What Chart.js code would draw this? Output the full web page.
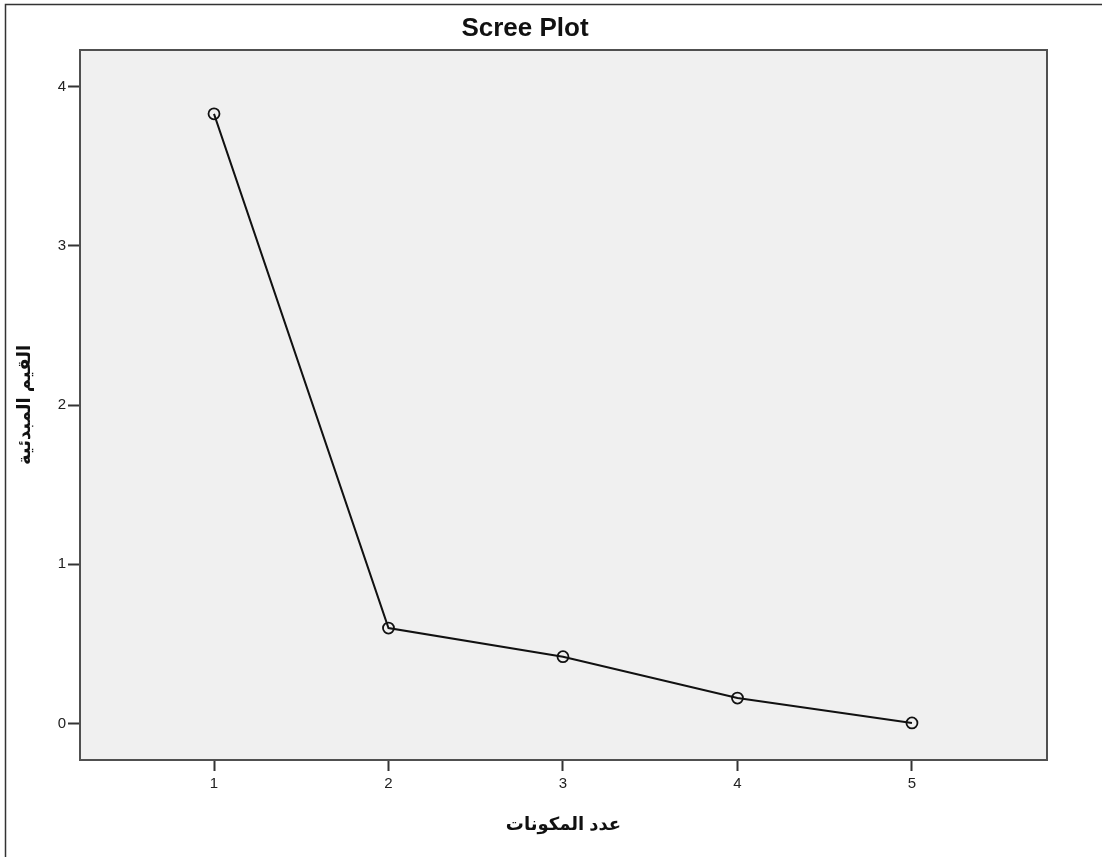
<!DOCTYPE html>
<html>
<head>
<meta charset="utf-8">
<script src="https://cdn.jsdelivr.net/npm/chart.js@4"></script>
<style>
  body { margin: 0; background: #fff; }
  canvas { display: block; }
</style>
</head>
<body>
<canvas id="screeChart" width="1102" height="857"></canvas>
<script>
// component numbers and eigenvalues
const components = [1, 2, 3, 4, 5]
const eigenvalues = [3.83, 0.60, 0.42, 0.16, 0.004]
const yTicks = [0, 1, 2, 3, 4]

const chartTitle = 'Scree Plot'
const xTitle = 'عدد المكونات'
const yTitle = 'القيم المبدئية'

const fontFamily = "'Liberation Sans', Arial, 'DejaVu Sans', sans-serif"

const points = components.map((c, i) => ({ x: c, y: eigenvalues[i] }))

// frame, grey plot area, plot border and the title
const decor = {
  id: 'decor',
  beforeDraw(chart) {
    const { ctx, chartArea: a } = chart
    ctx.save()
    ctx.fillStyle = '#fff'
    ctx.fillRect(0, 0, chart.width, chart.height)
    ctx.strokeStyle = '#333'
    ctx.lineWidth = 1.5
    ctx.beginPath()
    ctx.moveTo(5.5, chart.height)
    ctx.lineTo(5.5, 4.5)
    ctx.lineTo(chart.width, 4.5)
    ctx.stroke()
    ctx.fillStyle = '#f0f0f0'
    ctx.fillRect(a.left, a.top, a.right - a.left, a.bottom - a.top)
    ctx.fillStyle = '#111'
    ctx.font = 'bold 26px ' + fontFamily
    ctx.textAlign = 'center'
    ctx.textBaseline = 'middle'
    ctx.fillText(chartTitle, 525, 29)
    ctx.restore()
  },
  beforeDatasetsDraw(chart) {
    const { ctx, chartArea: a } = chart
    ctx.save()
    ctx.strokeStyle = '#505050'
    ctx.lineWidth = 2
    ctx.strokeRect(a.left, a.top, a.right - a.left, a.bottom - a.top)
    ctx.restore()
  }
}

new Chart(document.getElementById('screeChart'), {
  type: 'line',
  data: {
    datasets: [{
      data: points,
      borderColor: '#111',
      borderWidth: 2,
      tension: 0,
      pointStyle: 'circle',
      pointRadius: 5.5,
      pointBorderWidth: 1.8,
      pointBorderColor: '#111',
      pointBackgroundColor: 'rgba(0,0,0,0)'
    }]
  },
  options: {
    responsive: false,
    animation: false,
    devicePixelRatio: 1,
    layout: { padding: { top: 50, right: 55, left: 0, bottom: 0 } },
    plugins: {
      legend: { display: false },
      tooltip: { enabled: false }
    },
    scales: {
      x: {
        type: 'linear',
        min: 0.232,
        max: 5.774,
        afterBuildTicks: scale => { scale.ticks = components.map(v => ({ value: v })) },
        afterFit: scale => { scale.height = 97 },
        border: { display: false },
        grid: { drawOnChartArea: false, drawTicks: true, tickLength: 11, tickWidth: 2, tickColor: '#333' },
        ticks: { color: '#222', padding: 4, font: { family: fontFamily, size: 15 } },
        title: {
          display: true,
          text: xTitle,
          color: '#111',
          padding: { top: 0, bottom: 21 },
          font: { family: fontFamily, size: 18, weight: 'bold' }
        }
      },
      y: {
        min: -0.229,
        max: 4.231,
        afterBuildTicks: scale => { scale.ticks = yTicks.map(v => ({ value: v })) },
        afterFit: scale => { scale.width = 80 },
        border: { display: false },
        grid: { drawOnChartArea: false, drawTicks: true, tickLength: 12, tickWidth: 2, tickColor: '#333' },
        ticks: { color: '#222', padding: 2, font: { family: fontFamily, size: 15 } },
        title: {
          display: true,
          text: yTitle,
          color: '#111',
          padding: { top: 14, bottom: 0 },
          font: { family: fontFamily, size: 18, weight: 'bold' }
        }
      }
    }
  },
  plugins: [decor]
})
</script>
</body>
</html>
